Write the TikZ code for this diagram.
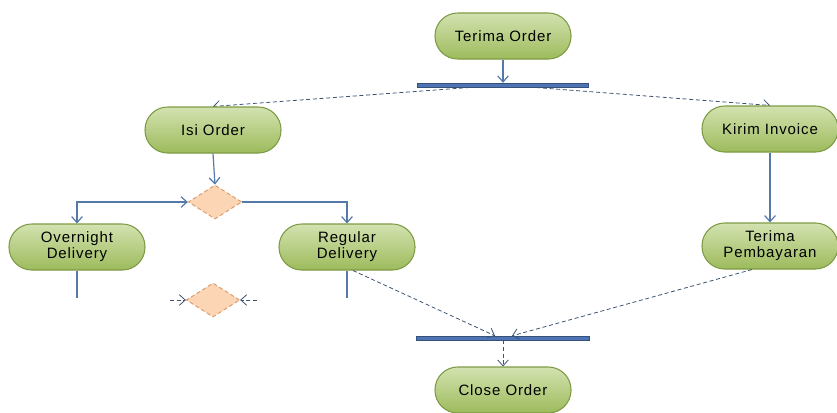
\documentclass[tikz,border=0pt]{standalone}
\usepackage{fontspec}
\setmainfont{Liberation Sans}
\usetikzlibrary{arrows.meta,shapes.geometric,calc}
\definecolor{gtop}{HTML}{D3E2B0}
\definecolor{gbot}{HTML}{9DBB5C}
\definecolor{gline}{HTML}{7E9B45}
\definecolor{dfill}{HTML}{FCD5B4}
\definecolor{dline}{HTML}{D99A6C}
\definecolor{barblue}{HTML}{4F74B4}
\definecolor{conncol}{HTML}{5579A8}
\definecolor{dashcol}{HTML}{3F5473}
\pgfdeclarelayer{bg}
\pgfsetlayers{bg,main}
\tikzset{
  act/.style={draw=gline, line width=0.8pt, top color=gtop, bottom color=gbot,
    rounded corners=17pt, minimum width=102pt, minimum height=34.5pt, inner sep=0pt,
    align=center, font=\addfontfeature{LetterSpace=6}\fontsize{11.25}{12}\selectfont},
  dec/.style={diamond, draw=dline, densely dashed, line width=0.7pt, fill=dfill,
    minimum width=40pt, minimum height=25.5pt, inner sep=0pt},
  syncbar/.style={fill=barblue, draw=barblue!70!black, line width=0.3pt,
    minimum width=128pt, minimum height=3pt, inner sep=0pt},
  tip/.style={-{Straight Barb[length=4.5pt,width=8pt]}},
  solidc/.style={draw=conncol, line width=0.9pt},
  dashc/.style={draw=dashcol, dash pattern=on 3pt off 2pt, line width=0.6pt},
}
\begin{document}
\begin{tikzpicture}[x=0.75pt,y=-0.75pt]
\useasboundingbox (0,0) rectangle (837,412);
% nodes
\node[act] (to) at (503,36) {Terima Order};
\node[syncbar] (fork) at (503,85) {};
\node[act] (isi) at (213,130) {Isi Order};
\node[act] (kirim) at (770,129) {Kirim Invoice};
\node[dec] (d1) at (215,202) {};
\node[act] (over) at (77,247) {Overnight\\Delivery};
\node[act] (reg) at (347,247) {Regular\\Delivery};
\node[act] (bayar) at (770,246) {Terima\\Pembayaran};
\node[dec] (d2) at (213,300) {};
\node[syncbar, minimum width=130pt] (join) at (503,338) {};
\node[act] (close) at (503,390) {Close Order};
% free ends
\coordinate (o1) at (77,298);
\coordinate (r1) at (347,298);
\coordinate (l2) at (170,300);
\coordinate (rr2) at (257,300);
% connectors
\begin{pgfonlayer}{bg}
\draw[dashc,tip] (fork.center) -- (isi.north);
\draw[dashc,tip] (fork.center) -- (kirim.north);
\end{pgfonlayer}
\draw[solidc,tip] (to.south) -- (fork.north);
\draw[solidc,tip] (isi.south) -- (d1.north);
\draw[solidc,{Straight Barb[length=4.5pt,width=8pt]}-{Straight Barb[length=4.5pt,width=8pt]}] (d1.west) -| (over.north);
\draw[solidc,tip] (d1.east) -| (reg.north);
\draw[solidc,tip] (kirim.south) -- (bayar.north);
\draw[solidc] (over.south) -- (o1);
\draw[solidc] (reg.south) -- (r1);
\draw[dashc,tip] (l2) -- (d2.west);
\draw[dashc,tip] (rr2) -- (d2.east);
\draw[dashc,tip] ($(reg.south)+(6,0)$) -- ($(join.north)+(-8,0)$);
\draw[dashc,tip] ($(bayar.south)+(-18,0)$) -- ($(join.north)+(9,0)$);
\draw[dashc,tip] (join.south) -- (close.north);
\end{tikzpicture}
\end{document}
